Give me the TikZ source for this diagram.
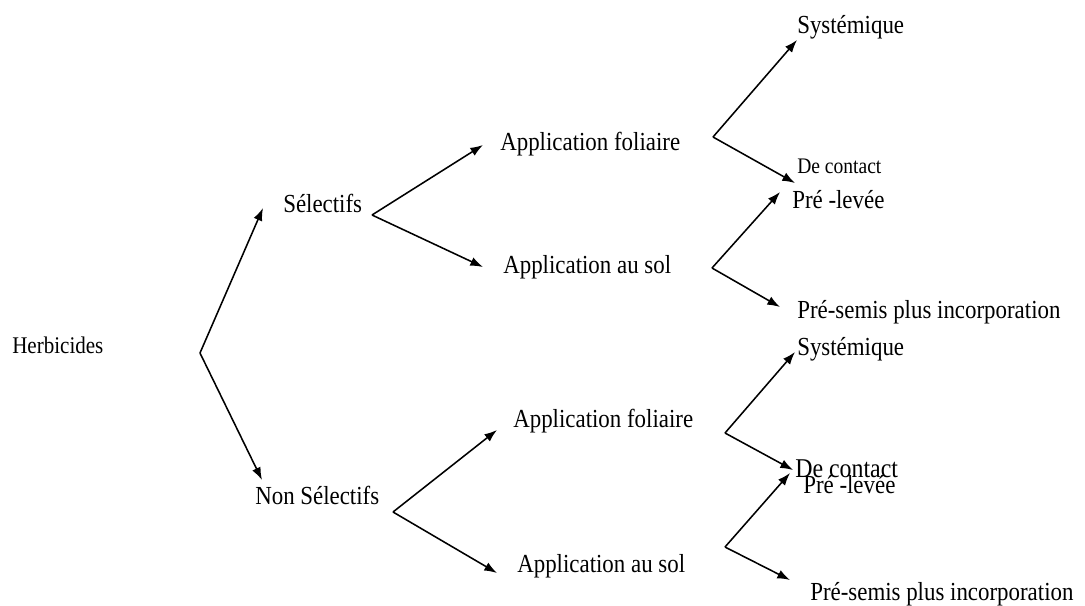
\documentclass[tikz,border=0pt]{standalone}
\usepackage{fontspec}
\setmainfont[FakeStretch=0.88]{Liberation Serif}
\usetikzlibrary{arrows.meta}
\begin{document}
\begin{tikzpicture}[x=0.025cm,y=-0.025cm,
    lbl/.style={anchor=base west,inner sep=0pt,font=\fontsize{18.5pt}{20pt}\selectfont},
    arr/.style={line width=1.1pt,-{Latex[length=9pt,width=6.5pt]}}]
    \useasboundingbox (0,0) rectangle (1085,605);

    \node[lbl,font=\fontsize{17pt}{18pt}\selectfont] (herb) at (12,353) {Herbicides};
    \node[lbl] (sel) at (283,212) {Sélectifs};
    \node[lbl] (nsel) at (255,504) {Non Sélectifs};

    \node[lbl] (fol1) at (500,150) {Application foliaire};
    \node[lbl] (sol1) at (503,273) {Application au sol};
    \node[lbl] (sys1) at (797,33) {Systémique};
    \node[lbl,font=\fontsize{15.8pt}{17pt}\selectfont] (con1) at (797,173) {De contact};
    \node[lbl] (pre1) at (792,208) {Pré -levée};
    \node[lbl] (sem1) at (797,318) {Pré-semis plus incorporation};

    \node[lbl] (fol2) at (513,427) {Application foliaire};
    \node[lbl] (sol2) at (517,572) {Application au sol};
    \node[lbl] (sys2) at (797,355) {Systémique};
    \node[lbl,font=\fontsize{19.3pt}{20pt}\selectfont] (con2) at (795,477) {De contact};
    \node[lbl] (pre2) at (803,493) {Pré -levée};
    \node[lbl] (sem2) at (810,600) {Pré-semis plus incorporation};

    \coordinate (f1) at (200,353);
    \coordinate (f2) at (372,215);
    \coordinate (f3) at (713,137);
    \coordinate (f4) at (712,268);
    \coordinate (f5) at (393,512);
    \coordinate (f6) at (725,433);
    \coordinate (f7) at (725,547);

    \coordinate (t-sel) at (263,208);
    \coordinate (t-nsel) at (262,480);
    \coordinate (t-fol1) at (483,145);
    \coordinate (t-sol1) at (483,267);
    \coordinate (t-sys1) at (797,40);
    \coordinate (t-con1) at (795,183);
    \coordinate (t-pre1) at (780,192);
    \coordinate (t-sem1) at (780,307);
    \coordinate (t-fol2) at (497,430);
    \coordinate (t-sol2) at (497,573);
    \coordinate (t-sys2) at (795,352);
    \coordinate (t-con2) at (793,470);
    \coordinate (t-pre2) at (790,473);
    \coordinate (t-sem2) at (790,580);

    \draw[arr] (f1) -- (t-sel);
    \draw[arr] (f1) -- (t-nsel);
    \draw[arr] (f2) -- (t-fol1);
    \draw[arr] (f2) -- (t-sol1);
    \draw[arr] (f3) -- (t-sys1);
    \draw[arr] (f3) -- (t-con1);
    \draw[arr] (f4) -- (t-pre1);
    \draw[arr] (f4) -- (t-sem1);
    \draw[arr] (f5) -- (t-fol2);
    \draw[arr] (f5) -- (t-sol2);
    \draw[arr] (f6) -- (t-sys2);
    \draw[arr] (f6) -- (t-con2);
    \draw[arr] (f7) -- (t-pre2);
    \draw[arr] (f7) -- (t-sem2);
\end{tikzpicture}
\end{document}
